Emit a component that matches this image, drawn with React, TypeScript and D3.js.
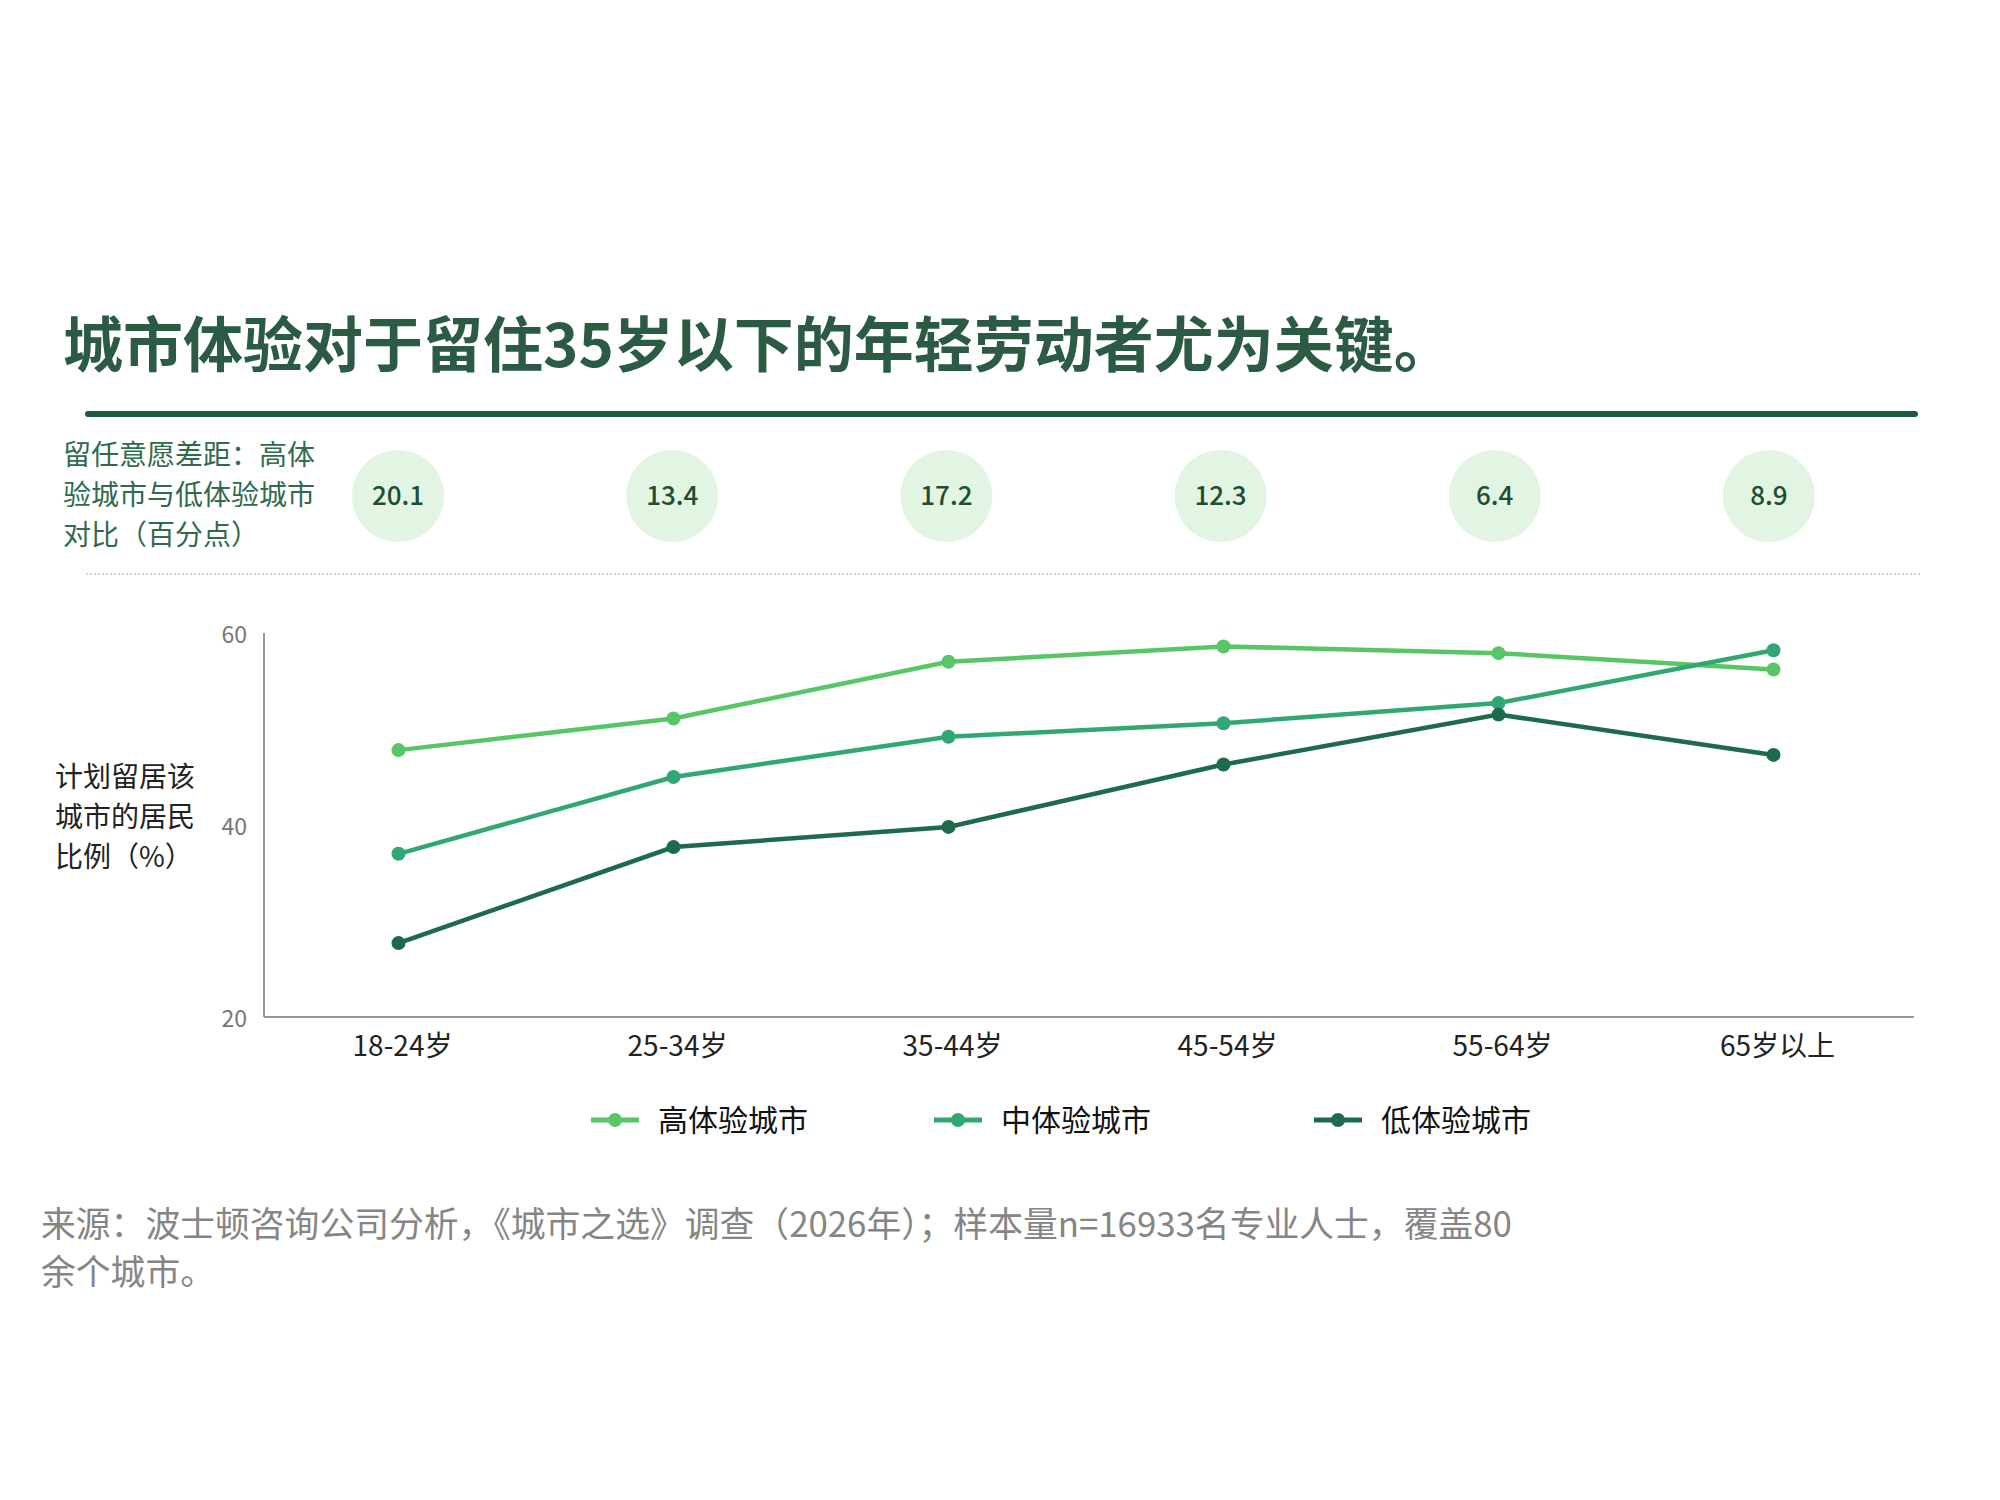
import React from "react";
import * as d3 from "d3";

const categories = ["18-24岁", "25-34岁", "35-44岁", "45-54岁", "55-64岁", "65岁以上"];
const highValues = [47.8, 51.1, 57.0, 58.6, 57.9, 56.2];
const midValues = [37.0, 45.0, 49.2, 50.6, 52.7, 58.2];
const lowValues = [27.7, 37.7, 39.8, 46.3, 51.5, 47.3];
const gapValues = ["20.1", "13.4", "17.2", "12.3", "6.4", "8.9"];
const yTicks = [20, 40, 60];
const seriesNames = ["高体验城市", "中体验城市", "低体验城市"];
const seriesColors = ["#58c667", "#31a874", "#1d6b4b"];

const FONT = "'Noto Sans CJK SC', 'Noto Sans', sans-serif";

export default function App() {
  const W = 2000;
  const H = 1500;
  const left = 264;
  const right = 1914;
  const top = 633;
  const bottom = 1017;

  const x = d3.scaleBand<string>().domain(categories).range([left - 3, right - 3]);
  const cx = (c: string) => (x(c) as number) + x.bandwidth() / 2;
  const xb = d3.scaleBand<string>().domain(categories).range([261, 1906]);
  const bx = (c: string) => (xb(c) as number) + xb.bandwidth() / 2;
  const y = d3.scaleLinear().domain([20, 60]).range([bottom, top]);

  const allSeries = [highValues, midValues, lowValues];
  const line = d3
    .line<number>()
    .x((_, i) => cx(categories[i]))
    .y((d) => y(d));

  const legendX = [591, 934, 1314];

  return (
    <svg width={W} height={H} style={{ display: "block", margin: "-8px", background: "#fff" }} fontFamily={FONT}>
      <rect x={0} y={0} width={W} height={H} fill="#fff" />
      {/* Title */}
      <text x={63} y={367} fontSize={60} fontWeight={700} fill="#2b5b43">
        城市体验对于留住35岁以下的年轻劳动者尤为关键。
      </text>
      <line x1={88} x2={1915} y1={414} y2={414} stroke="#1d5a3e" strokeWidth={6} strokeLinecap="round" />

      {/* Gap row label */}
      {["留任意愿差距：高体", "验城市与低体验城市", "对比（百分点）"].map((t, i) => (
        <text key={i} x={63} y={465 + i * 40} fontSize={28} fill="#2f6b4c">
          {t}
        </text>
      ))}
      {categories.map((c, i) => (
        <g key={c}>
          <circle cx={bx(c)} cy={496} r={46} fill="#e2f5e2" />
          <text x={bx(c)} y={496} dy="0.36em" textAnchor="middle" fontSize={26} fontWeight={500} fill="#1e4d33">
            {gapValues[i]}
          </text>
        </g>
      ))}
      <line x1={86} x2={1920} y1={574} y2={574} stroke="#c8c8c8" strokeWidth={1.5} strokeDasharray="2 2" />

      {/* Axes */}
      <line x1={left} x2={left} y1={top} y2={bottom} stroke="#9a9a9a" strokeWidth={2} />
      <line x1={left} x2={right} y1={bottom} y2={bottom} stroke="#9a9a9a" strokeWidth={2} />
      {yTicks.map((t) => (
        <text key={t} x={247} y={y(t) + 2} dy="0.36em" textAnchor="end" fontSize={23} fill="#777">
          {t}
        </text>
      ))}
      {["计划留居该", "城市的居民", "比例（%）"].map((t, i) => (
        <text key={i} x={55} y={787 + i * 40} fontSize={28} fill="#222">
          {t}
        </text>
      ))}
      {categories.map((c) => (
        <text key={c} x={cx(c) + 4} y={1056} textAnchor="middle" fontSize={28} fill="#222">
          {c}
        </text>
      ))}

      {/* Lines */}
      {allSeries.map((s, si) => (
        <g key={si}>
          <path d={line(s) as string} fill="none" stroke={seriesColors[si]} strokeWidth={4.5} />
          {s.map((v, i) => (
            <circle key={i} cx={cx(categories[i])} cy={y(v)} r={7} fill={seriesColors[si]} />
          ))}
        </g>
      ))}

      {/* Legend */}
      {seriesNames.map((n, i) => (
        <g key={n}>
          <line x1={legendX[i]} x2={legendX[i] + 48} y1={1120} y2={1120} stroke={seriesColors[i]} strokeWidth={5} />
          <circle cx={legendX[i] + 24} cy={1120} r={7} fill={seriesColors[i]} />
          <text x={legendX[i] + 67} y={1120} dy="0.36em" fontSize={30} fill="#111">
            {n}
          </text>
        </g>
      ))}

      {/* Footnote */}
      <text x={41} y={1237} fontSize={34.8} fill="#858585">
        来源：波士顿咨询公司分析，《城市之选》调查（2026年）；样本量n=16933名专业人士，覆盖80
      </text>
      <text x={41} y={1285} fontSize={34.8} fill="#858585">
        余个城市。
      </text>
    </svg>
  );
}
